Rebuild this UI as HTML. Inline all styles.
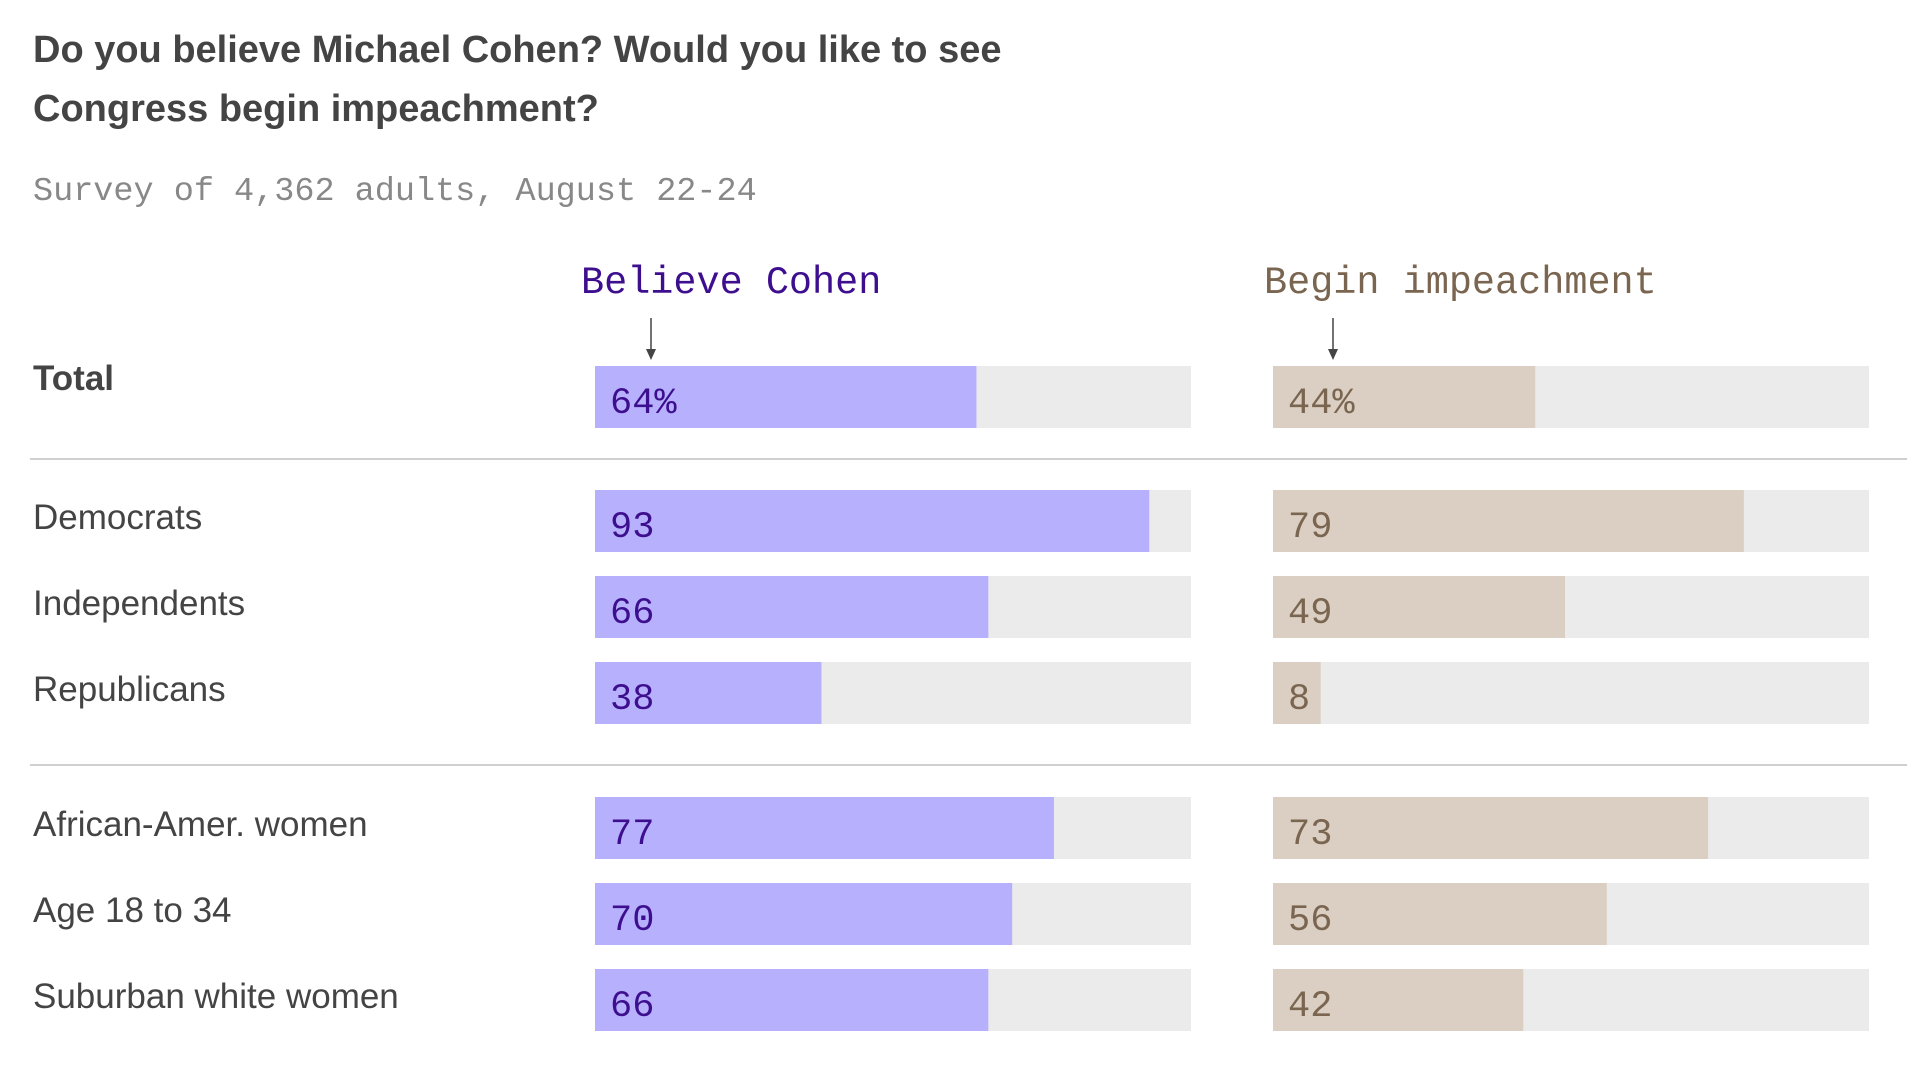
<!DOCTYPE html>
<html><head><meta charset="utf-8"><style>
html,body{margin:0;padding:0;background:#fff;width:1920px;height:1080px;overflow:hidden}
svg{display:block}
.t{font-family:"Liberation Sans",sans-serif;font-weight:bold;font-size:38px;fill:#444}
.sub{font-family:"Liberation Mono",monospace;font-size:33.5px;fill:#888}
.hd{font-family:"Liberation Mono",monospace;font-size:38.5px}
.lbl{font-family:"Liberation Sans",sans-serif;font-size:35px;fill:#444}
.val{font-family:"Liberation Mono",monospace;font-size:37px}
</style></head><body>
<svg id="chart" width="1920" height="1080" viewBox="0 0 1920 1080" xmlns="http://www.w3.org/2000/svg">
<text class="t" x="33" y="62">Do you believe Michael Cohen? Would you like to see</text>
<text class="t" x="33" y="121">Congress begin impeachment?</text>
<text class="sub" x="33" y="200">Survey of 4,362 adults, August 22-24</text>
<text class="hd" x="581" y="293" fill="#3d0f8f">Believe Cohen</text>
<text class="hd" x="1264" y="293" fill="#7a6550">Begin impeachment</text>
<g><line x1="651" y1="318" x2="651" y2="355" stroke="#444" stroke-width="1.5"/><path d="M646,349 L651,360 L656,349 Z" fill="#444"/></g>
<g><line x1="1333" y1="318" x2="1333" y2="355" stroke="#444" stroke-width="1.5"/><path d="M1328,349 L1333,360 L1338,349 Z" fill="#444"/></g>
<line x1="30" y1="459" x2="1907" y2="459" stroke="#d0d0d0" stroke-width="2"/>
<line x1="30" y1="765" x2="1907" y2="765" stroke="#d0d0d0" stroke-width="2"/>
<g id="rows"></g>
</svg>
<script>
const categories = ["Total","Democrats","Independents","Republicans","African-Amer. women","Age 18 to 34","Suburban white women"];
const believeValues = [64,93,66,38,77,70,66];
const impeachValues = [44,79,49,8,73,56,42];
const valueLabelsBelieve = ["64%","93","66","38","77","70","66"];
const valueLabelsImpeach = ["44%","79","49","8","73","56","42"];

const rowTops = [366,490,576,662,797,883,969];
const BAR_H = 62, COL_W = 596;
const colX = [595, 1273];
function xScale(v){ return v/100*COL_W; }
const ns = "http://www.w3.org/2000/svg";
const g = document.getElementById('rows');
function mk(tag, attrs){ const e=document.createElementNS(ns,tag); for(const k in attrs) e.setAttribute(k,attrs[k]); return e; }
categories.forEach((c,i)=>{
  const y = rowTops[i];
  const lab = mk('text',{x:33,y:y+BAR_H/2+(i===0?-1:8),class:'lbl'});
  if(i===0){ lab.setAttribute('font-weight','bold'); lab.setAttribute('y', y+24); }
  lab.textContent = c;
  
  
  g.appendChild(lab);
  [[believeValues,valueLabelsBelieve,'#b7b0fc','#3d0f8f','believe'],[impeachValues,valueLabelsImpeach,'#dacfc2','#7a6550','impeach']].forEach((s,j)=>{
    const x0 = colX[j];
    const bg = mk('rect',{x:x0,y:y,width:COL_W,height:BAR_H,fill:'#ebebeb'});
    
    
    g.appendChild(bg);
    const bar = mk('rect',{x:x0,y:y,width:xScale(s[0][i]),height:BAR_H,fill:s[2]});
    
    
    g.appendChild(bar);
    const t = mk('text',{x:x0+15,y:y+BAR_H/2+16,class:'val',fill:s[3]});
    t.textContent = s[1][i];
    
    
    g.appendChild(t);
  });
});
</script>
</body></html>
